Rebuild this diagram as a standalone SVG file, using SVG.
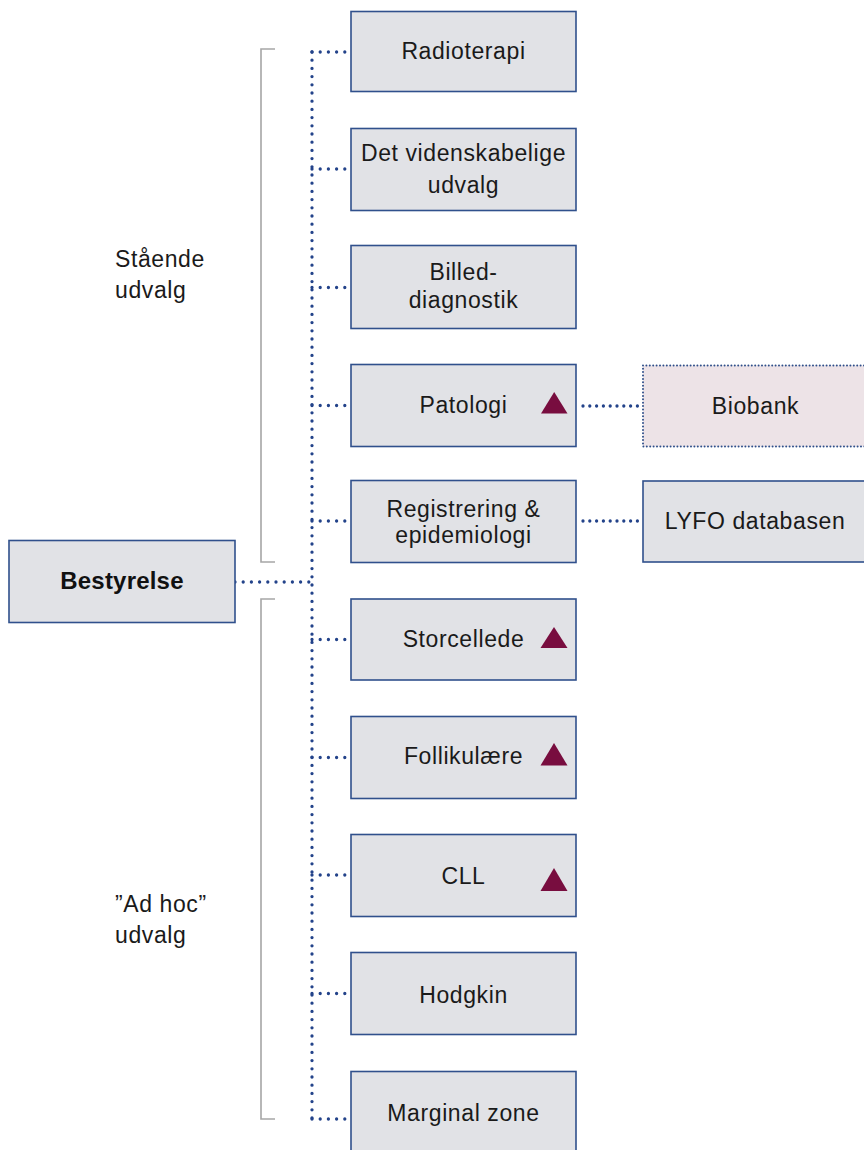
<svg xmlns="http://www.w3.org/2000/svg" width="864" height="1150" viewBox="0 0 864 1150">
<style>
.box{fill:#e1e2e6;stroke:#30508c;stroke-width:1.6}
.bio{fill:#ede3e7;stroke:#2f4f8a;stroke-width:2;stroke-dasharray:0 3.4;stroke-linecap:round}
.t{font-family:"Liberation Sans",Arial,sans-serif;font-size:23px;fill:#1a1a1a;letter-spacing:0.6px}
.c{text-anchor:middle}
.b{font-weight:bold;font-size:24px;letter-spacing:0.2px;fill:#111}
.dot{fill:none;stroke:#23438a;stroke-width:3.3;stroke-linecap:round;stroke-dasharray:0 8.2}
.dot2{fill:none;stroke:#23438a;stroke-width:3.3;stroke-linecap:round;stroke-dasharray:0 6.8}
.br{fill:none;stroke:#a6a6a6;stroke-width:1.6}
.tri{fill:#780d3f}
</style>
<g id="brackets">
<path class="br" d="M275,49 H261 V562 H275"/>
<path class="br" d="M275,599 H261 V1119 H275"/>
</g>
<g id="connectors">
<path class="dot" d="M312,52 V1119"/>
<path class="dot" d="M235,582 H312"/>
<path class="dot" d="M312,52 H351"/>
<path class="dot" d="M312,169 H351"/>
<path class="dot" d="M312,287.5 H351"/>
<path class="dot" d="M312,405.5 H351"/>
<path class="dot" d="M312,521 H351"/>
<path class="dot" d="M312,639.5 H351"/>
<path class="dot" d="M312,757.5 H351"/>
<path class="dot" d="M312,875 H351"/>
<path class="dot" d="M312,993.5 H351"/>
<path class="dot" d="M312,1119 H351"/>
<path class="dot2" d="M583,406 H638"/>
<path class="dot2" d="M583,521 H638"/>
</g>
<g id="labels">
<text class="t" x="115" y="267">Stående</text>
<text class="t" x="115" y="298">udvalg</text>
<text class="t" x="115" y="912">”Ad hoc”</text>
<text class="t" x="115" y="943">udvalg</text>
</g>
<g id="bestyrelse">
<rect class="box" x="9" y="540.5" width="226" height="82"/>
<text class="t c b" x="122" y="589">Bestyrelse</text>
</g>
<g id="radioterapi">
<rect class="box" x="351" y="11.5" width="225" height="80"/>
<text class="t c" x="463.5" y="59">Radioterapi</text>
</g>
<g id="videnskabelige">
<rect class="box" x="351" y="128.5" width="225" height="82"/>
<text class="t c" x="463.5" y="161">Det videnskabelige</text>
<text class="t c" x="463.5" y="193">udvalg</text>
</g>
<g id="billed">
<rect class="box" x="351" y="245.5" width="225" height="83"/>
<text class="t c" x="463.5" y="280">Billed-</text>
<text class="t c" x="463.5" y="308">diagnostik</text>
</g>
<g id="patologi">
<rect class="box" x="351" y="364.5" width="225" height="82"/>
<text class="t c" x="463.5" y="413">Patologi</text>
<polygon class="tri" points="541,413.5 567.5,413.5 554.2,392"/>
</g>
<g id="registrering">
<rect class="box" x="351" y="480.5" width="225" height="82"/>
<text class="t c" x="463.5" y="517">Registrering &amp;</text>
<text class="t c" x="463.5" y="542.5">epidemiologi</text>
</g>
<g id="storcellede">
<rect class="box" x="351" y="599" width="225" height="81"/>
<text class="t c" x="463.5" y="647">Storcellede</text>
<polygon class="tri" points="540.5,648 567.5,648 554,627"/>
</g>
<g id="follikulaere">
<rect class="box" x="351" y="716.5" width="225" height="82"/>
<text class="t c" x="463.5" y="764">Follikulære</text>
<polygon class="tri" points="540.5,765.5 567.5,765.5 554,743"/>
</g>
<g id="cll">
<rect class="box" x="351" y="834.5" width="225" height="82"/>
<text class="t c" x="463.5" y="883.5">CLL</text>
<polygon class="tri" points="540.5,891 567.5,891 554,868"/>
</g>
<g id="hodgkin">
<rect class="box" x="351" y="952.5" width="225" height="82"/>
<text class="t c" x="463.5" y="1003">Hodgkin</text>
</g>
<g id="marginal">
<rect class="box" x="351" y="1071.5" width="225" height="90"/>
<text class="t c" x="463.5" y="1121">Marginal zone</text>
</g>
<g id="biobank">
<rect class="bio" x="643" y="365.5" width="230" height="81"/>
<text class="t c" x="755.5" y="413.5">Biobank</text>
</g>
<g id="lyfo">
<rect class="box" x="643" y="481" width="230" height="81"/>
<text class="t c" x="755" y="528.5">LYFO databasen</text>
</g>
</svg>
